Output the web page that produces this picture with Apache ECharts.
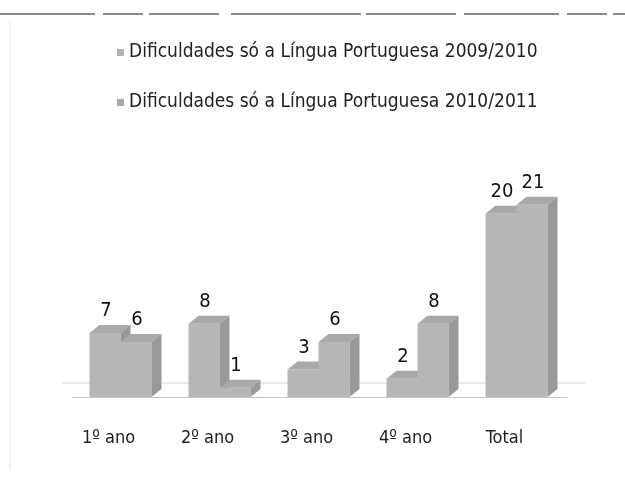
<!DOCTYPE html>
<html>
<head>
<meta charset="utf-8">
<script src="https://cdn.jsdelivr.net/npm/echarts@6/dist/echarts.min.js"></script>
<style>
  html, body { margin: 0; padding: 0; background: #fff; }
  #chart { width: 625px; height: 479px; }
</style>
</head>
<body>
<div id="chart"></div>
<script>
const categories = ['1º ano', '2º ano', '3º ano', '4º ano', 'Total'];
const series2009 = [7, 8, 3, 2, 20];
const series2010 = [6, 1, 6, 8, 21];
const seriesNames = [
  'Dificuldades só a Língua Portuguesa 2009/2010',
  'Dificuldades só a Língua Portuguesa 2010/2011'
];

const FONT = "'Liberation Sans Narrow', 'DejaVu Sans Condensed', sans-serif";

// fake 3d bar: front face, top face, right side face
function renderBar3d(params, api) {
  const idx = api.value(0);
  const val = api.value(1);
  const base = api.coord([idx, 0]);
  const top = api.coord([idx, val]);
  const w = 31;
  const dx = 10;
  const dy = 8;
  const x0 = base[0] + (params.seriesIndex === 0 ? -w - 1 : -1);
  return {
    type: 'group',
    children: [
      {
        type: 'rect',
        shape: { x: x0, y: top[1], width: w, height: base[1] - top[1] },
        style: { fill: '#b6b6b6' }
      },
      {
        type: 'polygon',
        shape: { points: [[x0, top[1]], [x0 + dx, top[1] - dy], [x0 + w + dx, top[1] - dy], [x0 + w, top[1]]] },
        style: { fill: '#a9a9a9' }
      },
      {
        type: 'polygon',
        shape: { points: [[x0 + w, top[1]], [x0 + w + dx, top[1] - dy], [x0 + w + dx, base[1] - dy], [x0 + w, base[1]]] },
        style: { fill: '#999999' }
      },
      {
        type: 'text',
        style: {
          text: String(val),
          x: x0 + w / 2 + dx / 2 - 4,
          y: top[1] - dy - 4,
          align: 'center',
          verticalAlign: 'bottom',
          fill: '#111',
          font: '20px ' + FONT
        }
      }
    ]
  };
}

const chart = echarts.init(document.getElementById('chart'));
chart.setOption({
  animation: false,
  backgroundColor: '#fff',
  legend: {
    orient: 'vertical',
    left: 112,
    top: 38,
    itemGap: 31,
    itemWidth: 7,
    itemHeight: 7,
    icon: 'rect',
    textStyle: { fontSize: 19, color: '#222', fontFamily: FONT },
    data: seriesNames
  },
  grid: { top: 168, bottom: 82, left: 72, right: 58 },
  xAxis: {
    type: 'category',
    data: categories,
    axisTick: { show: false },
    axisLine: { lineStyle: { color: '#c4c4c4' } },
    axisLabel: {
      margin: 32,
      fontSize: 18,
      color: '#222',
      fontFamily: FONT,
      padding: [0, 26, 0, 0]
    }
  },
  yAxis: {
    type: 'value',
    min: 0,
    max: 25,
    show: false,
    splitLine: { show: false }
  },
  graphic: [
    { type: 'line', shape: { x1: 0, y1: 14, x2: 625, y2: 14 }, style: { stroke: '#666', lineWidth: 1.5, lineDash: [95, 8, 40, 6, 70, 12, 130, 5, 90, 8] } },
    { type: 'line', shape: { x1: 10, y1: 22, x2: 10, y2: 470 }, style: { stroke: '#e6e6e6', lineWidth: 1 } },
    { type: 'line', shape: { x1: 62, y1: 383, x2: 585, y2: 383 }, style: { stroke: '#d4d4d4', lineWidth: 1 } }
  ],
  series: [
    {
      name: seriesNames[0],
      type: 'custom',
      renderItem: renderBar3d,
      itemStyle: { color: '#b3b3b3' },
      encode: { x: 0, y: 1 },
      data: series2009.map((v, i) => [i, v])
    },
    {
      name: seriesNames[1],
      type: 'custom',
      renderItem: renderBar3d,
      itemStyle: { color: '#a8a8a8' },
      encode: { x: 0, y: 1 },
      data: series2010.map((v, i) => [i, v])
    }
  ]
});
</script>
</body>
</html>
